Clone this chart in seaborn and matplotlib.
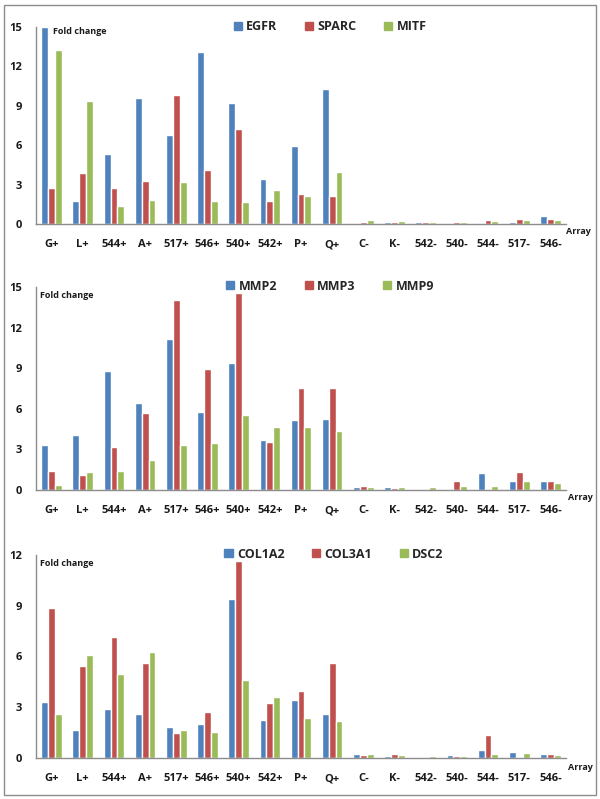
import matplotlib
matplotlib.use("Agg")
import matplotlib.pyplot as plt
import seaborn as sns
import pandas as pd
from matplotlib.patches import Rectangle

sns.set_theme(style="white")
plt.rcParams['font.family'] = ['Open Sans', 'DejaVu Sans']

categories = ["G+", "L+", "544+", "A+", "517+", "546+", "540+", "542+", "P+", "Q+",
              "C-", "K-", "542-", "540-", "544-", "517-", "546-"]

# Panel 1
egfr = [15.0, 1.75, 5.32, 9.58, 6.79, 13.1, 9.25, 3.39, 5.93, 10.26,
        0.10, 0.15, 0.18, 0.05, 0.03, 0.15, 0.63]
sparc = [2.71, 3.85, 2.74, 3.24, 9.80, 4.13, 7.20, 1.75, 2.28, 2.13,
         0.12, 0.12, 0.12, 0.15, 0.30, 0.35, 0.35]
mitf = [13.28, 9.35, 1.37, 1.82, 3.22, 1.77, 1.67, 2.58, 2.13, 3.95,
        0.28, 0.20, 0.15, 0.15, 0.23, 0.30, 0.28]

# Panel 2
mmp2 = [3.32, 4.10, 8.78, 6.42, 11.16, 5.78, 9.37, 3.69, 5.19, 5.21,
        0.25, 0.22, 0.0, 0.0, 1.28, 0.66, 0.66]
mmp3 = [1.38, 1.11, 3.15, 5.70, 14.06, 8.97, 14.56, 3.52, 7.55, 7.55,
        0.30, 0.15, 0.0, 0.66, 0.0, 1.30, 0.66]
mmp9 = [0.37, 1.30, 1.40, 2.19, 3.30, 3.44, 5.53, 4.67, 4.67, 4.35,
        0.22, 0.22, 0.20, 0.27, 0.30, 0.64, 0.49]

# Panel 3
col1a2 = [3.30, 1.64, 2.88, 2.59, 1.82, 2.03, 9.37, 2.25, 3.41, 2.59,
          0.22, 0.12, 0.08, 0.16, 0.45, 0.36, 0.22]
col3a1 = [8.84, 5.43, 7.14, 5.60, 1.50, 2.70, 11.64, 3.24, 3.97, 5.59,
          0.20, 0.26, 0.02, 0.10, 1.34, 0.08, 0.26]
dsc2 = [2.62, 6.08, 4.95, 6.28, 1.68, 1.52, 4.60, 3.59, 2.39, 2.21,
        0.22, 0.16, 0.10, 0.12, 0.22, 0.30, 0.16]

colors = ["#4F81BD", "#C0504D", "#9BBB59"]

panels = [
    (("EGFR", egfr), ("SPARC", sparc), ("MITF", mitf)),
    (("MMP2", mmp2), ("MMP3", mmp3), ("MMP9", mmp9)),
    (("COL1A2", col1a2), ("COL3A1", col3a1), ("DSC2", dsc2)),
]
ymaxes = [15, 15, 12]
yticks = [[0, 3, 6, 9, 12, 15], [0, 3, 6, 9, 12, 15], [0, 3, 6, 9, 12]]

W, H = 600, 799
fig = plt.figure(figsize=(6.0, 7.99), dpi=100)

# axes pixel geometry: (x0, x1, y_zero, y_top)
geom = [(36, 566, 224, 27), (36, 566, 490, 287), (36, 566, 758, 555)]
fold_pos = [(53, 32), (40, 295), (40, 563)]
legend_pos = [(330, 27), (330, 286), (334, 554)]
array_pos = [(578, 232), (580, 498), (580, 767)]

for i, series in enumerate(panels):
    x0, x1, yz, yt = geom[i]
    ax = fig.add_axes([x0 / W, 1 - yz / H, (x1 - x0) / W, (yz - yt) / H])
    rows = []
    for name, vals in series:
        for c, v in zip(categories, vals):
            rows.append({"Array": c, "Gene": name, "Fold": v})
    df = pd.DataFrame(rows)
    sns.barplot(data=df, x="Array", y="Fold", hue="Gene", order=categories,
                hue_order=[s[0] for s in series], palette=colors,
                width=0.66, gap=0, saturation=1, ax=ax, errorbar=None)
    ax.set_ylim(0, ymaxes[i])
    ax.set_xlim(-0.5, len(categories) - 0.5)
    ax.set_yticks(yticks[i])
    ax.set_xlabel("")
    ax.set_ylabel("")
    for s in ["top", "right"]:
        ax.spines[s].set_visible(False)
    for s in ["left", "bottom"]:
        ax.spines[s].set_color("#8c8c8c")
        ax.spines[s].set_linewidth(1.0)
    ax.tick_params(axis="both", length=0, labelsize=8, colors="#1a1a1a")
    ax.tick_params(axis="x", pad=11)
    ax.tick_params(axis="y", pad=10)
    for lab in ax.get_xticklabels() + ax.get_yticklabels():
        lab.set_fontweight("bold")
    ax.legend_.remove()
    handles = [Rectangle((0, 0), 1, 1, color=c) for c in colors]
    fig.legend(handles, [s[0] for s in series], ncol=3, frameon=False,
               loc="center", bbox_to_anchor=(legend_pos[i][0] / W, 1 - legend_pos[i][1] / H),
               prop={"weight": "bold", "size": 9}, handlelength=0.65, handleheight=0.65,
               handletextpad=0.35, columnspacing=2.2)
    fig.text(fold_pos[i][0] / W, 1 - fold_pos[i][1] / H, "Fold change",
             fontsize=6.5, fontweight="bold", ha="left", va="center", color="#1a1a1a")
    fig.text(array_pos[i][0] / W, 1 - array_pos[i][1] / H, "Array",
             fontsize=6.5, fontweight="bold", ha="center", va="center", color="#1a1a1a")

fig.patches.append(Rectangle((4 / W, 1 - 795 / H), 592 / W, 790 / H,
                             transform=fig.transFigure, fill=False,
                             edgecolor="#8c8c8c", linewidth=1.0))

fig.savefig("out.png", dpi=100)
